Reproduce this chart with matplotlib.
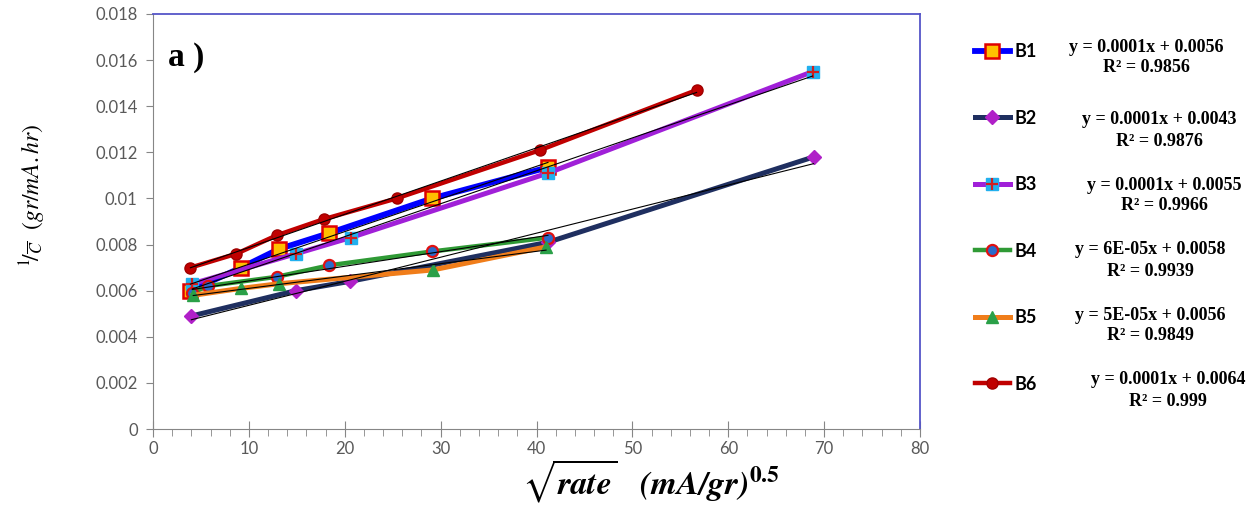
import numpy as np
import matplotlib
matplotlib.use('Agg')
import matplotlib.pyplot as plt
from matplotlib.legend_handler import HandlerTuple

# data
b1_x = [3.9, 9.2, 13.1, 18.4, 29.1, 41.2]
b1_y = [0.0060, 0.0070, 0.0078, 0.0085, 0.0100, 0.01135]
b2_x = [4.0, 14.9, 20.5, 41.2, 68.9]
b2_y = [0.0049, 0.0060, 0.0064, 0.0081, 0.0118]
b3_x = [4.1, 14.9, 20.6, 41.2, 68.8]
b3_y = [0.0063, 0.0076, 0.0083, 0.0111, 0.0155]
b4_x = [4.1, 5.7, 12.9, 18.4, 29.1, 41.2]
b4_y = [0.0059, 0.0062, 0.0066, 0.0071, 0.0077, 0.0083]
b5_x = [4.2, 9.2, 13.1, 29.2, 41.0]
b5_y = [0.0058, 0.0061, 0.0063, 0.0069, 0.0079]
b6_x = [3.9, 8.7, 12.9, 17.8, 25.4, 40.4, 56.7]
b6_y = [0.0070, 0.0076, 0.0084, 0.0091, 0.0100, 0.0121, 0.0147]

names = ['B1', 'B2', 'B3', 'B4', 'B5', 'B6']
equations = ['y = 0.0001x + 0.0056', 'y = 0.0001x + 0.0043', 'y = 0.0001x + 0.0055',
             'y = 6E-05x + 0.0058', 'y = 5E-05x + 0.0056', 'y = 0.0001x + 0.0064']
r2_values = ['0.9856', '0.9876', '0.9966', '0.9939', '0.9849', '0.999']

series = [(b1_x, b1_y), (b2_x, b2_y), (b3_x, b3_y), (b4_x, b4_y), (b5_x, b5_y), (b6_x, b6_y)]

plt.rcParams['mathtext.fontset'] = 'stix'

fig = plt.figure(figsize=(12.58, 5.08), dpi=100)
ax = fig.add_axes([153 / 1258, 1 - 429 / 508, 767 / 1258, 415 / 508])

grey = '#868686'
tick_col = '#595959'

h1, = ax.plot(b1_x, b1_y, color='#0000ff', lw=4.2, marker='s', ms=10,
              mfc='#ffc000', mec='#e00000', mew=1.8)
h2, = ax.plot(b2_x, b2_y, color='#1f2f60', lw=3.6, marker='D', ms=7.5,
              mfc='#b020c8', mec='#b020c8')
h3, = ax.plot(b3_x, b3_y, color='#a020d8', lw=3.6, marker='s', ms=9,
              mfc='#22b0ee', mec='#22b0ee')
h3b, = ax.plot(b3_x, b3_y, ls='none', marker='+', ms=9, mec='#d02020', mew=1.6)
h4, = ax.plot(b4_x, b4_y, color='#2f9a35', lw=3.2, marker='o', ms=8,
              mfc='#2a6acb', mec='#e01010', mew=1.6)
h5, = ax.plot(b5_x, b5_y, color='#f07d1a', lw=3.6, marker='^', ms=9,
              mfc='#2aa048', mec='#2aa048')
h6, = ax.plot(b6_x, b6_y, color='#c00000', lw=3.2, marker='o', ms=8,
              mfc='#c00000', mec='#a00000')

# linear trendlines (thin black), like Excel
for x, y in series:
    k, b = np.polyfit(x, y, 1)
    xs = np.array([min(x), max(x)])
    ax.plot(xs, k * xs + b, color='black', lw=0.8, zorder=5)

ax.set_xlim(0, 80)
ax.set_ylim(0, 0.018)
ax.set_xticks(np.arange(0, 81, 10))
ax.set_xticks(np.arange(0, 81, 2), minor=True)
ax.set_yticks(np.arange(0, 0.0181, 0.002))
ax.set_yticklabels(['0', '0.002', '0.004', '0.006', '0.008', '0.01', '0.012',
                    '0.014', '0.016', '0.018'])

for side in ['left', 'bottom']:
    ax.spines[side].set_color(grey)
for side in ['top', 'right']:
    ax.spines[side].set_color('#5555c8')
    ax.spines[side].set_linewidth(1.3)

ax.tick_params(axis='x', which='major', direction='inout', length=11, color=grey,
               labelsize=12, labelcolor=tick_col, pad=3)
ax.tick_params(axis='x', which='minor', direction='out', length=5, color=grey)
ax.tick_params(axis='y', direction='out', length=5, color=grey,
               labelsize=12, labelcolor=tick_col, pad=6)
for lab in ax.get_xticklabels() + ax.get_yticklabels():
    lab.set_family('Lato')

ax.text(0.02, 0.895, 'a )', transform=ax.transAxes, fontsize=24, fontweight='bold',
        family='Liberation Serif', va='center', ha='left')

fig.text(651 / 1258, 1 - 481 / 508,
         r'$\sqrt{\mathbfit{rate}}\quad\mathbfit{(mA/gr)}^{\mathbf{0.5}}$',
         fontsize=24, ha='center', va='center')
fig.text(33 / 1258, 1 - 195 / 508,
         r'$^{1}\!/_{\overline{C}}\ \ (gr/mA.hr)$',
         fontsize=17, rotation=90, ha='center', va='center')

handles = [h1, h2, (h3, h3b), h4, h5, h6]
leg = fig.legend(handles, names, loc='upper left',
                 bbox_to_anchor=(968 / 1258, 1 - 36 / 508),
                 frameon=False, handlelength=1.9, handletextpad=0.3,
                 labelspacing=2.74, borderaxespad=0,
                 handler_map={tuple: HandlerTuple(ndivide=1)},
                 prop={'family': 'Lato', 'weight': 'bold', 'size': 13})

eq_pos = [(1146, 47), (1159, 120), (1164, 185), (1150, 250), (1150, 315), (1168, 380)]
for (px, py), eq, r2 in zip(eq_pos, equations, r2_values):
    fig.text(px / 1258, 1 - py / 508, eq, ha='center', va='center', fontsize=13,
             fontweight='bold', family='Liberation Serif')
    fig.text(px / 1258, 1 - (py + 21) / 508, 'R² = ' + r2, ha='center', va='center',
             fontsize=13, fontweight='bold', family='Liberation Serif')

fig.savefig('out.png', dpi=100)
